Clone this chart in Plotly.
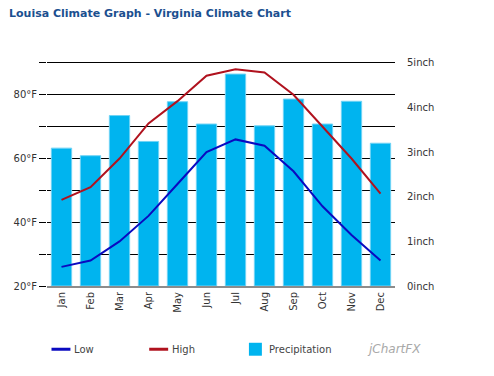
import plotly.graph_objects as go

months = ["Jan", "Feb", "Mar", "Apr", "May", "Jun", "Jul", "Aug", "Sep", "Oct", "Nov", "Dec"]
low_f = [26, 28, 34, 42, 52, 62, 66, 64, 56, 45, 36, 28]
high_f = [47, 51, 60, 71, 78, 86, 88, 87, 80, 70, 60, 49]
precip_in = [3.09, 2.92, 3.82, 3.24, 4.13, 3.63, 4.75, 3.59, 4.19, 3.63, 4.14, 3.20]

left_ticks = [20, 30, 40, 50, 60, 70, 80, 90]
left_text = ["20°F", "", "40°F", "", "60°F", "", "80°F", ""]
right_ticks = [0, 1, 2, 3, 4, 5]
right_text = ["0inch", "1inch", "2inch", "3inch", "4inch", "5inch"]

FONT = "DejaVu Sans"
OFF = 8  # page body margin
W, H = 494 - OFF, 376 - OFF

T_MIN, T_MAX = 20, 90.6           # headroom so the 90°F grid line is drawn
Y20, Y90 = 286.5, 62.5            # page pixels of 20°F and 90°F
K = (Y20 - Y90) / 70.0
L, R = 46.5, 395.5
B = Y20
T = Y90 - (T_MAX - 90) * K
PW, PH = R - L, B - T
P_MAX = 5 * (T_MAX - T_MIN) / 70  # precipitation axis aligned: 0in=20°F, 5in=90°F
LOW_C, HIGH_C, BAR_C = "#0a0ac0", "#b0121e", "#00B4EF"


def px(x):
    return (x - L) / PW


def py(y):
    return (B - y) / PH


fig = go.Figure()
# empty trace so the main (temperature) axis and its grid exist
fig.add_trace(go.Scatter(x=months, y=[None] * 12, yaxis="y", mode="lines",
                         showlegend=False, hoverinfo="skip"))
fig.add_trace(go.Bar(
    x=months, y=precip_in, name="Precipitation", yaxis="y2",
    marker=dict(color=BAR_C, line=dict(color="#6fd3f5", width=1)),
    width=0.7, showlegend=False,
))
fig.add_trace(go.Scatter(
    x=months, y=low_f, name="Low", mode="lines", yaxis="y3",
    line=dict(color=LOW_C, width=2), showlegend=False,
))
fig.add_trace(go.Scatter(
    x=months, y=high_f, name="High", mode="lines", yaxis="y3",
    line=dict(color=HIGH_C, width=2), showlegend=False,
))

shapes = [
    dict(type="line", xref="paper", yref="paper", x0=px(51), x1=px(70),
         y0=py(350), y1=py(350), line=dict(color=LOW_C, width=3)),
    dict(type="line", xref="paper", yref="paper", x0=px(149), x1=px(168),
         y0=py(350), y1=py(350), line=dict(color=HIGH_C, width=3)),
    dict(type="rect", xref="paper", yref="paper", x0=px(249), x1=px(262),
         y0=py(356.5), y1=py(343.5), line=dict(width=0), fillcolor=BAR_C),
]

annotations = [
    dict(text="<b>Louisa Climate Graph - Virginia Climate Chart</b>",
         xref="paper", yref="paper", x=px(6), y=py(13),
         xanchor="left", yanchor="middle", showarrow=False,
         font=dict(family=FONT, size=11, color="#1b4f8f")),
    dict(text="Low", xref="paper", yref="paper", x=px(72), y=py(350),
         xanchor="left", yanchor="middle", showarrow=False,
         font=dict(family=FONT, size=10, color="#444444")),
    dict(text="High", xref="paper", yref="paper", x=px(170), y=py(350),
         xanchor="left", yanchor="middle", showarrow=False,
         font=dict(family=FONT, size=10, color="#444444")),
    dict(text="Precipitation", xref="paper", yref="paper", x=px(267), y=py(350),
         xanchor="left", yanchor="middle", showarrow=False,
         font=dict(family=FONT, size=10, color="#444444")),
    dict(text="<i>jChartFX</i>", xref="paper", yref="paper",
         x=px(365), y=py(350), xanchor="left", yanchor="middle", showarrow=False,
         font=dict(family=FONT, size=12, color="#a8a8a8")),
]

fig.update_layout(
    width=W, height=H,
    margin=dict(l=L - OFF, r=W - (R - OFF), t=T - OFF, b=H - (B - OFF), autoexpand=False),
    paper_bgcolor="white", plot_bgcolor="white",
    font=dict(family=FONT, size=10, color="#333333"),
    showlegend=False,
    xaxis=dict(
        type="category", range=[-0.5, 11.5], automargin=False,
        tickangle=-90, showgrid=False, ticks="",
        showline=True, linecolor="#8c8c8c", linewidth=2,
        tickfont=dict(size=10, color="#333333"),
    ),
    yaxis=dict(
        range=[T_MIN, T_MAX], tickvals=left_ticks, ticktext=left_text, automargin=False,
        showgrid=True, gridcolor="black", gridwidth=1,
        ticks="outside", ticklen=7, tickcolor="black",
        zeroline=False, showline=False,
        tickfont=dict(size=10, color="#333333"),
    ),
    yaxis2=dict(
        range=[0, P_MAX], overlaying="y", side="right", automargin=False,
        tickvals=right_ticks, ticktext=right_text,
        showgrid=False, ticks="", zeroline=False, showline=False,
        tickfont=dict(size=10, color="#333333"),
        ticklabelstandoff=11,
    ),
    yaxis3=dict(
        range=[T_MIN, T_MAX], overlaying="y", side="left", automargin=False,
        showticklabels=False, ticks="", showgrid=False, zeroline=False, showline=False,
    ),
    shapes=shapes,
    annotations=annotations,
)

fig.write_html("out.html")
